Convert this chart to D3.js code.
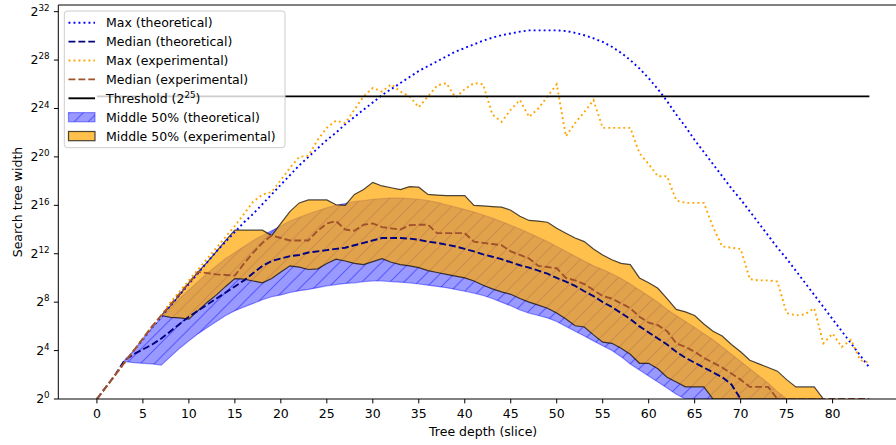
<!DOCTYPE html>
<html>
<head>
<meta charset="utf-8">
<script src="https://cdn.jsdelivr.net/npm/d3@7/dist/d3.min.js"></script>
<style>
  body { margin: 0; background: #fff; }
  svg text { font-family: "DejaVu Sans", sans-serif; fill: #000; }
</style>
</head>
<body>
<svg id="chart" width="896" height="445"></svg>
<script>
// values are log2 of the search tree width
// full series start at depth 0
var maxTheo = [0,1,2,3,4,4.9,5.9,6.8,7.7,8.6,
  9.5,10.4,11.3,12.2,13.0,13.8,14.6,15.3,16.1,16.9,
  17.7,18.5,19.3,20.0,20.7,21.4,22.0,22.7,23.3,23.9,
  24.5,25.1,25.6,26.1,26.6,27.1,27.5,27.9,28.3,28.7,
  29.0,29.3,29.6,29.85,30.05,30.2,30.35,30.45,30.45,30.45,
  30.45,30.4,30.25,30.05,29.8,29.5,29.1,28.6,28.0,27.3,
  26.5,25.6,24.6,23.5,22.5,21.4,20.4,19.4,18.4,17.4,
  16.5,15.5,14.5,13.5,12.5,11.6,10.6,9.6,8.6,7.6,
  6.6,5.6,4.6,3.6,2.6];

var medTheo = [0,1,2,3.2,3.7,4.1,4.5,5.0,5.6,6.2,
  6.8,7.3,7.8,8.3,8.8,9.3,9.8,10.4,11.0,11.4,
  11.6,11.8,11.9,12.1,12.2,12.3,12.4,12.5,12.7,12.9,
  13.1,13.3,13.3,13.3,13.25,13.15,13.0,12.9,12.75,12.6,
  12.4,12.2,11.95,11.75,11.55,11.3,11.05,10.85,10.6,10.35,
  10.0,9.7,9.35,8.9,8.5,8.0,7.6,7.1,6.6,6.0,
  5.5,5.0,4.5,3.9,3.4,3.0,2.6,2.2,1.8,1.2,
  0];

var maxExp = [0,1,2,3,4,5,6,6.9,8,8.9,
  9.8,10.7,11.6,12.5,13.4,14.3,15.3,16.3,16.9,17.1,
  18.1,19.1,20.0,20.1,21.4,22.4,23.0,22.8,23.9,25.0,
  25.7,25.4,26.0,25.4,25.0,24.1,25.0,25.9,26.1,24.9,
  25.6,26.1,26.0,23.5,22.9,23.9,24.7,23.3,24.0,25.0,
  26.0,21.7,22.8,23.7,24.7,22.4,22.4,22.4,22.4,20.3,
  19.4,18.4,18.4,16.4,16.2,16.2,16.2,14.2,12.6,12.5,
  12.4,9.9,9.8,9.8,9.7,7.1,6.9,7.0,7.5,4.6,
  5.4,4.3,4.9,3.2,3.0];

var medExp = [0,1,2,3,4,5,6,6.9,7.8,8.7,
  9.6,10.5,10.4,10.3,10.25,10.2,11.2,12.1,12.9,13.5,
  13.3,13.1,13.1,13.1,13.9,14.5,14.7,14.0,13.9,14.4,
  14.5,14.2,14.1,14.0,14.35,14.4,14.4,13.7,13.7,13.7,
  13.7,13.0,12.9,12.8,12.7,12.2,11.9,11.6,11.0,10.9,
  10.8,10.0,9.8,9.5,9.0,8.5,8.3,7.9,7.5,6.8,
  6.3,6.1,5.6,4.6,4.3,3.9,3.4,3.0,2.6,2.1,
  1.6,1.0,1.0,1.0,0,0,0,0,0,0,
  0,0,0,0,0];

// middle 50% of the theoretical model, from depth 3
var theoBandStart = 3;
var lowTheo = [3.1,3.0,2.95,2.9,2.8,
  3.5,4.2,4.8,5.4,5.9,
  6.4,6.9,7.3,7.6,7.9,
  8.2,8.45,8.6,8.8,8.95,
  9.05,9.2,9.35,9.45,9.55,
  9.6,9.7,9.75,9.75,9.7,
  9.65,9.6,9.5,9.4,9.3,
  9.2,9.05,8.9,8.75,8.55,
  8.3,8.0,7.7,7.35,7.1,
  6.9,6.7,6.4,6.0,5.6,
  5.2,4.8,4.4,4.0,3.5,
  2.9,2.4,1.9,1.4,0.9,
  0.4,0,0,0,0,0,0,0,0,0,0,0,0];
var upTheo = [3.2,4.0,5.0,5.9,6.7,
  7.5,8.3,9.0,9.7,10.4,
  11.0,11.6,12.1,12.6,13.1,
  13.5,13.9,14.3,14.7,15.0,
  15.3,15.55,15.8,16.0,16.15,
  16.3,16.4,16.5,16.55,16.6,
  16.6,16.55,16.5,16.4,16.25,
  16.05,15.85,15.65,15.45,15.2,
  14.95,14.65,14.35,14.05,13.7,
  13.35,13.0,12.6,12.2,11.8,
  11.4,11.0,10.7,10.35,9.95,
  9.5,9.0,8.5,8.0,7.4,
  6.9,6.4,5.9,5.4,4.9,
  4.3,3.7,3.1,2.5,1.9,
  1.3,0.6,0];

// middle 50% of the experiment, from depth 7
var expBandStart = 7;
var lowExp = [6.9,6.75,6.7,6.6,7.3,
  8.0,8.6,9.3,9.95,9.9,
  9.75,9.6,9.95,10.5,11.0,
  10.9,10.7,10.75,11.2,11.55,
  11.4,11.2,11.1,11.35,11.6,
  11.3,11.1,11.0,10.85,10.6,
  10.45,10.3,10.15,10.0,9.75,
  9.4,9.1,8.85,8.65,8.3,
  8.0,7.75,7.5,7.1,6.6,
  6.05,5.95,5.3,4.7,4.6,
  4.2,3.7,2.95,2.95,2.5,
  1.8,1.4,1.0,1.0,1.0,
  0,0,0,0,0,0,0,0,0,0,0,0,0];
var upExp = [6.9,7.7,8.6,9.6,10.5,
  11.3,12.2,13.1,13.95,13.95,
  13.95,13.95,13.5,14.5,15.5,
  16.2,16.45,16.45,16.45,16.05,
  16.0,16.9,17.3,17.9,17.6,
  17.45,17.3,17.55,17.5,16.9,
  16.85,16.8,16.8,16.8,16.0,
  15.95,15.9,15.85,15.6,15.1,
  14.75,14.7,14.6,14.1,13.7,
  13.3,13.0,12.4,11.9,11.5,
  11.2,11.1,10.0,9.6,9.15,
  8.3,7.4,7.2,6.9,6.2,
  5.6,5.2,4.5,3.9,3.2,
  2.9,2.6,2.3,1.6,1.0,
  1.0,1.0,0];

var thresholdExp = 25;
var thresholdRange = [0, 84];
var xTicks = [0,5,10,15,20,25,30,35,40,45,50,55,60,65,70,75,80];
var yTicks = [0,4,8,12,16,20,24,28,32];

var legendItems = [
  {label: "Max (theoretical)", kind: "line", color: "blue", dash: "1.9,3.1"},
  {label: "Median (theoretical)", kind: "line", color: "navy", dash: "6.9,3"},
  {label: "Max (experimental)", kind: "line", color: "orange", dash: "1.9,3.1"},
  {label: "Median (experimental)", kind: "line", color: "sienna", dash: "6.9,3"},
  {label: "Threshold (2", sup: "25", after: ")", kind: "line", color: "black", dash: null},
  {label: "Middle 50% (theoretical)", kind: "theo"},
  {label: "Middle 50% (experimental)", kind: "exp"}
];

var svg = d3.select("#chart");
var padL = 58.3, padR = 908, padT = 5, padB = 399;

var x = d3.scaleLinear().domain([-4.2, 88.2]).range([padL, padR]);
var y = d3.scaleLinear().domain([0, 32.55]).range([padB, padT]);

var defs = svg.append("defs");
defs.append("clipPath").attr("id", "plotclip")
  .append("rect").attr("x", padL).attr("y", padT)
  .attr("width", padR - padL).attr("height", padB - padT);

var hatch = defs.append("pattern").attr("id", "hatch")
  .attr("patternUnits", "userSpaceOnUse")
  .attr("width", 14).attr("height", 14);
hatch.append("path")
  .attr("d", "M-1,1 l2,-2 M0,14 l14,-14 M13,15 l2,-2")
  .attr("stroke", "blue").attr("stroke-opacity", 0.4)
  .attr("stroke-width", 1.2);

var plot = svg.append("g").attr("clip-path", "url(#plotclip)");

function bandData(start, lo, hi) {
  return lo.map(function (v, i) { return {d: start + i, lo: v, hi: hi[i]}; });
}
var band = d3.area()
  .x(function (d) { return x(d.d); })
  .y0(function (d) { return y(d.lo); })
  .y1(function (d) { return y(d.hi); });

var theoBand = bandData(theoBandStart, lowTheo, upTheo);
plot.append("path").datum(theoBand).attr("d", band)
  .attr("fill", "blue").attr("fill-opacity", 0.4)
  .attr("stroke", "blue").attr("stroke-opacity", 0.4).attr("stroke-width", 1.2);
plot.append("path").datum(theoBand).attr("d", band)
  .attr("fill", "url(#hatch)");

var expBand = bandData(expBandStart, lowExp, upExp);
plot.append("path").datum(expBand).attr("d", band)
  .attr("fill", "orange").attr("fill-opacity", 0.7)
  .attr("stroke", "black").attr("stroke-opacity", 0.7).attr("stroke-width", 1.2);

var line = d3.line()
  .x(function (d, i) { return x(i); })
  .y(function (d) { return y(d); });

function drawLine(data, color, dash) {
  plot.append("path").datum(data).attr("d", line)
    .attr("fill", "none").attr("stroke", color)
    .attr("stroke-width", 1.9)
    .attr("stroke-dasharray", dash);
}
drawLine(maxTheo, "blue", "1.9,3.1");
drawLine(medTheo, "navy", "6.9,3");
drawLine(maxExp, "orange", "1.9,3.1");
drawLine(medExp, "sienna", "6.9,3");

plot.append("line")
  .attr("x1", x(thresholdRange[0])).attr("x2", x(thresholdRange[1]))
  .attr("y1", y(thresholdExp)).attr("y2", y(thresholdExp))
  .attr("stroke", "black").attr("stroke-width", 1.9);

// spines
svg.append("line").attr("x1", padL).attr("x2", padL).attr("y1", padT).attr("y2", padB)
  .attr("stroke", "black").attr("stroke-width", 1);
svg.append("line").attr("x1", padL).attr("x2", padR).attr("y1", padB).attr("y2", padB)
  .attr("stroke", "black").attr("stroke-width", 1);
svg.append("line").attr("x1", padL).attr("x2", padR).attr("y1", padT).attr("y2", padT)
  .attr("stroke", "black").attr("stroke-width", 1);

// x axis
var xg = svg.append("g");
xTicks.forEach(function (t) {
  xg.append("line").attr("x1", x(t)).attr("x2", x(t))
    .attr("y1", padB).attr("y2", padB + 4.4)
    .attr("stroke", "black").attr("stroke-width", 1);
  xg.append("text").attr("x", x(t)).attr("y", padB + 18.5)
    .attr("text-anchor", "middle").attr("font-size", 12.5).text(t);
});
svg.append("text").attr("x", (padL + padR) / 2).attr("y", 436)
  .attr("text-anchor", "middle").attr("font-size", 12.5).text("Tree depth (slice)");

// y axis
var yg = svg.append("g");
yTicks.forEach(function (t) {
  yg.append("line").attr("x1", padL - 4.4).attr("x2", padL)
    .attr("y1", y(t)).attr("y2", y(t))
    .attr("stroke", "black").attr("stroke-width", 1);
  var lab = yg.append("text").attr("x", padL - 8.6).attr("y", y(t) + 4)
    .attr("text-anchor", "end").attr("font-size", 12.5);
  lab.append("tspan").text("2");
  lab.append("tspan").attr("dy", -4.8).attr("font-size", 8.75).text(t);
});
svg.append("text")
  .attr("transform", "translate(22," + ((padT + padB) / 2) + ") rotate(-90)")
  .attr("text-anchor", "middle").attr("font-size", 12.5).text("Search tree width");

// legend
var lg = svg.append("g");
lg.append("rect").attr("x", 64.3).attr("y", 11).attr("width", 220.7).attr("height", 136.7)
  .attr("rx", 3).attr("fill", "white").attr("fill-opacity", 0.8)
  .attr("stroke", "#cccccc").attr("stroke-width", 1);
legendItems.forEach(function (it, i) {
  var cy = 22.7 + i * 18.9;
  if (it.kind === "line") {
    lg.append("line").attr("x1", 68.5).attr("x2", 95).attr("y1", cy).attr("y2", cy)
      .attr("stroke", it.color).attr("stroke-width", 1.9)
      .attr("stroke-dasharray", it.dash);
  } else if (it.kind === "theo") {
    lg.append("rect").attr("x", 68.5).attr("y", cy - 4.6).attr("width", 26.5).attr("height", 9.2)
      .attr("fill", "blue").attr("fill-opacity", 0.4)
      .attr("stroke", "blue").attr("stroke-opacity", 0.4).attr("stroke-width", 1.2);
    lg.append("rect").attr("x", 68.5).attr("y", cy - 4.6).attr("width", 26.5).attr("height", 9.2)
      .attr("fill", "url(#hatch)");
  } else {
    lg.append("rect").attr("x", 68.5).attr("y", cy - 4.6).attr("width", 26.5).attr("height", 9.2)
      .attr("fill", "orange").attr("fill-opacity", 0.7)
      .attr("stroke", "black").attr("stroke-opacity", 0.7).attr("stroke-width", 1.2);
  }
  var tx = lg.append("text").attr("x", 106).attr("y", cy + 4.5).attr("font-size", 12.5);
  tx.append("tspan").text(it.label);
  if (it.sup) {
    tx.append("tspan").attr("dy", -4.8).attr("font-size", 8.75).text(it.sup);
    tx.append("tspan").attr("dy", 4.8).text(it.after);
  }
});
</script>
</body>
</html>
